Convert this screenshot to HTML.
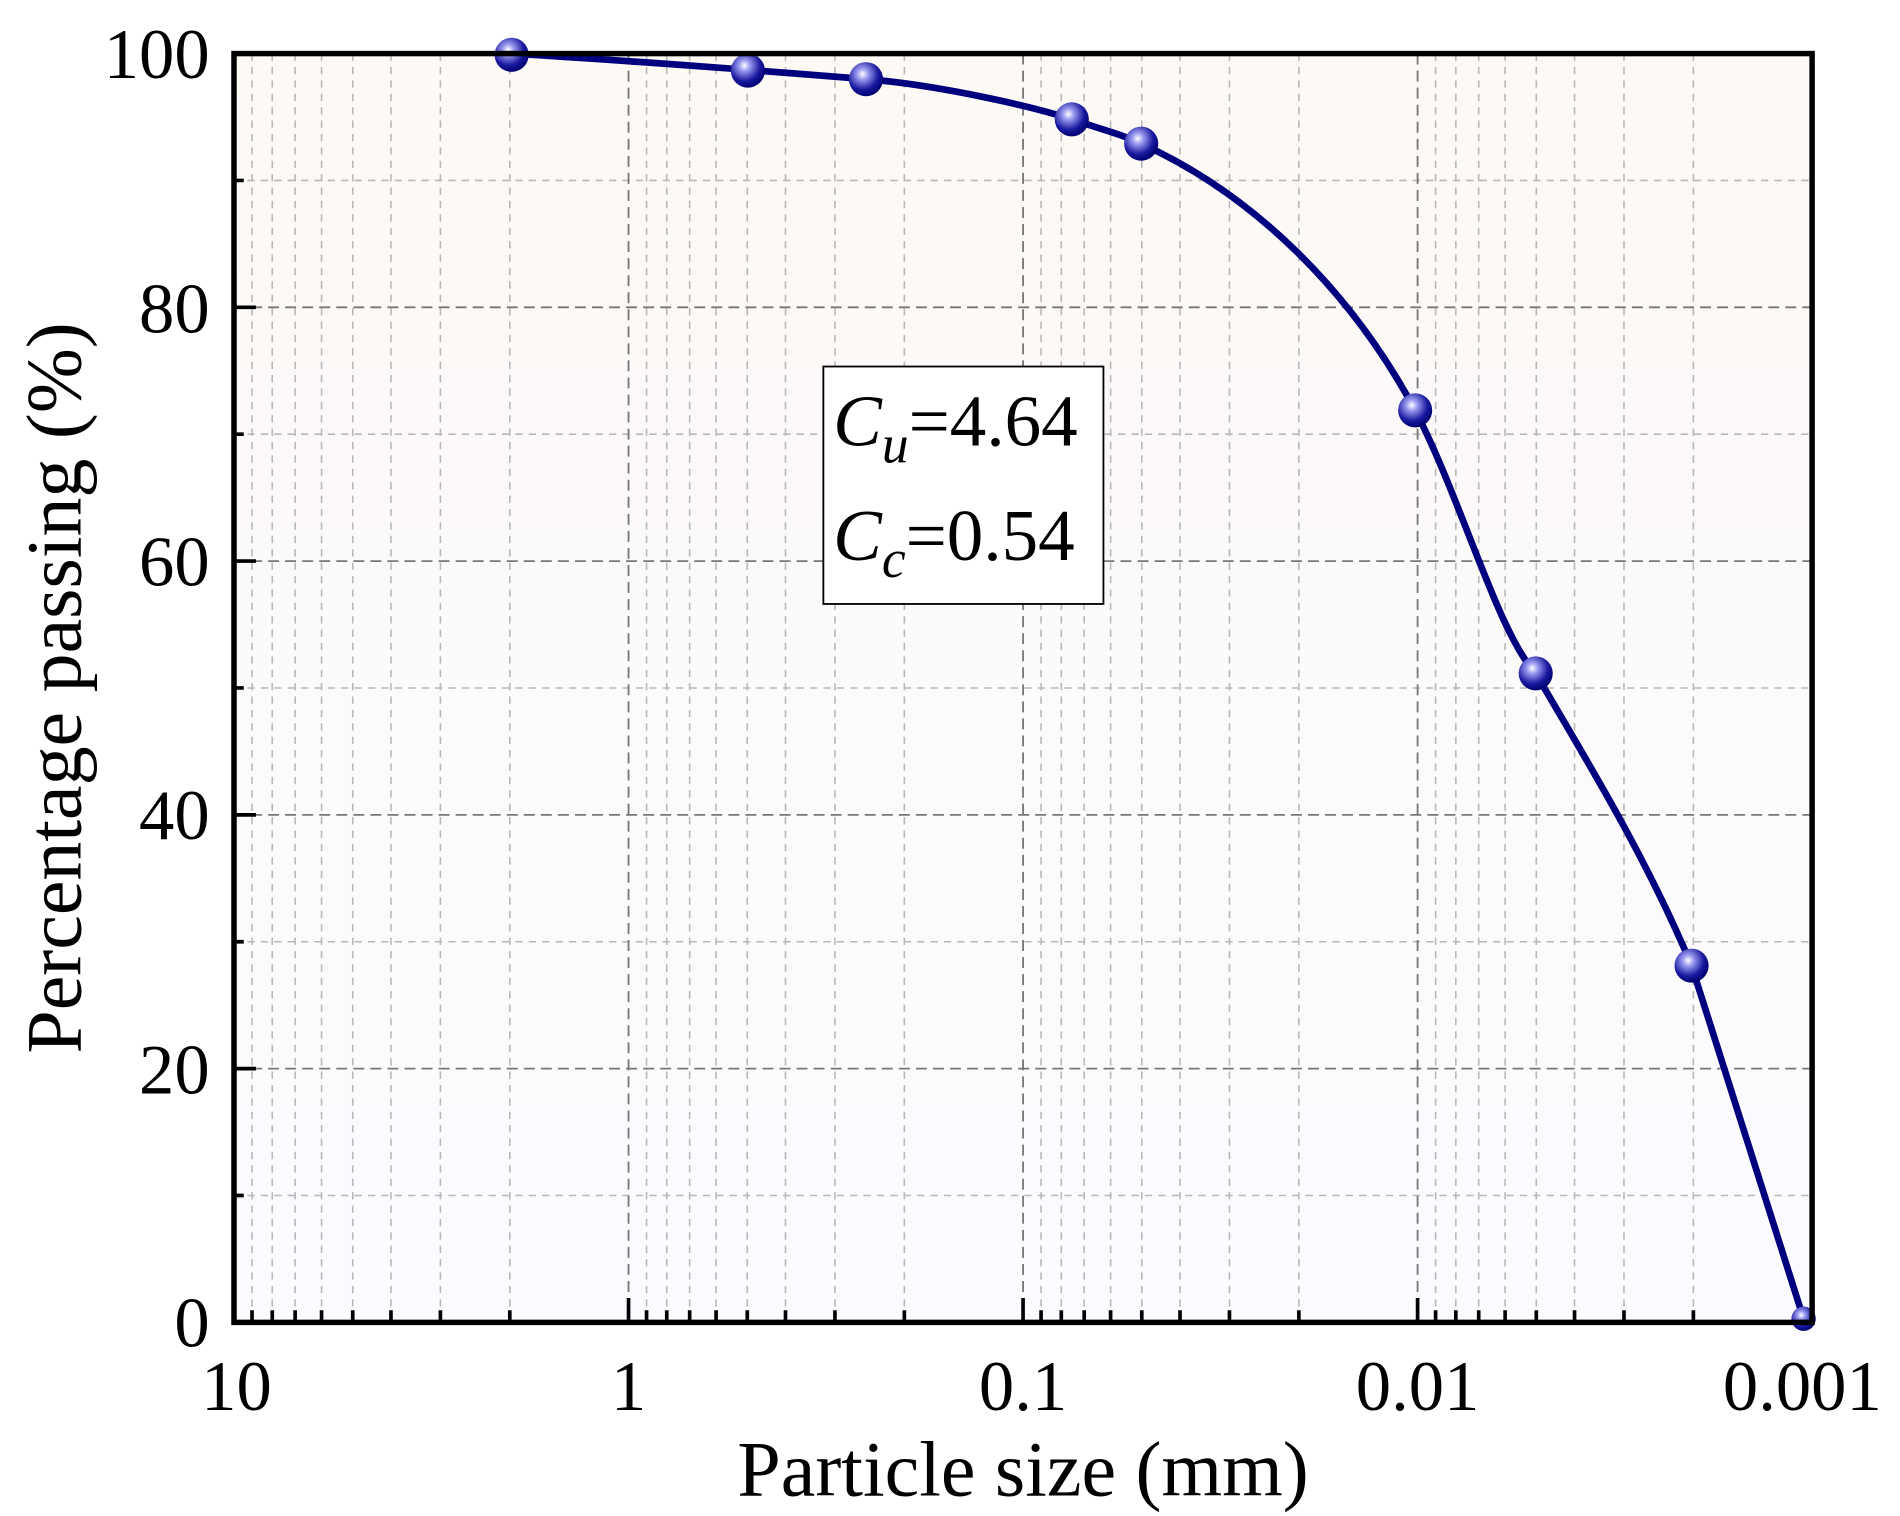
<!DOCTYPE html>
<html><head><meta charset="utf-8"><style>
html,body{margin:0;padding:0;background:#fff;}
svg{display:block;}
text{font-family:"Liberation Serif",serif;fill:#000;}
</style></head><body>
<svg width="1900" height="1516" viewBox="0 0 1560 1245" xmlns="http://www.w3.org/2000/svg">
<defs>
<linearGradient id="bg" x1="0" y1="0" x2="0" y2="1">
<stop offset="0" stop-color="#fdf9f5"/><stop offset="1" stop-color="#fbfaff"/>
</linearGradient>
<radialGradient id="ball" cx="0.4" cy="0.35" r="0.65">
<stop offset="0" stop-color="#ffffff"/><stop offset="0.25" stop-color="#9a9af0"/><stop offset="0.7" stop-color="#1a1aa0"/><stop offset="1" stop-color="#000070"/>
</radialGradient>
</defs>
<rect x="192" y="44" width="1296" height="1042" fill="url(#bg)"/>
<g stroke="#b8b8b8" stroke-width="1.3" stroke-dasharray="6,5" fill="none">
<path d="M206.8,44V1086M223.4,44V1086M242.2,44V1086M263.9,44V1086M289.5,44V1086M320.9,44V1086M361.5,44V1086M418.5,44V1086
M530.8,44V1086M547.4,44V1086M566.2,44V1086M587.9,44V1086M613.5,44V1086M644.9,44V1086M685.5,44V1086M742.5,44V1086
M854.8,44V1086M871.4,44V1086M890.2,44V1086M911.9,44V1086M937.5,44V1086M968.9,44V1086M1009.5,44V1086M1066.5,44V1086
M1178.8,44V1086M1195.4,44V1086M1214.2,44V1086M1235.9,44V1086M1261.5,44V1086M1292.9,44V1086M1333.5,44V1086M1390.5,44V1086
M192,981.8H1488M192,773.4H1488M192,565H1488M192,356.6H1488M192,148.2H1488"/>
</g>
<g stroke="#777" stroke-width="1.5" stroke-dasharray="9,5" fill="none">
<path d="M516,44V1086M840,44V1086M1164,44V1086M192,877.6H1488M192,669.2H1488M192,460.8H1488M192,252.4H1488"/>
</g>
<path d="M420,44 C520,50 650,60 711,65 S850,88 880,98 S920,110 937,118 C1030,160 1110,240 1162,337 C1200,410 1230,520 1261,553 C1300,620 1350,700 1389,793 L1481,1083" fill="none" stroke="#00007f" stroke-width="5.5"/>
<g fill="url(#ball)">
<circle cx="420" cy="45" r="14"/><circle cx="614" cy="58" r="14"/><circle cx="711" cy="65" r="14"/>
<circle cx="880" cy="98" r="14"/><circle cx="937" cy="118" r="14"/><circle cx="1162" cy="337" r="14"/>
<circle cx="1261" cy="553" r="14"/><circle cx="1389" cy="793" r="14"/><circle cx="1481" cy="1083" r="10"/>
</g>
<g stroke="#000" stroke-width="3" fill="none">
<path d="M206.8,1086v-10M223.4,1086v-10M242.2,1086v-10M263.9,1086v-10M289.5,1086v-10M320.9,1086v-10M361.5,1086v-10M418.5,1086v-10
M530.8,1086v-10M547.4,1086v-10M566.2,1086v-10M587.9,1086v-10M613.5,1086v-10M644.9,1086v-10M685.5,1086v-10M742.5,1086v-10
M854.8,1086v-10M871.4,1086v-10M890.2,1086v-10M911.9,1086v-10M937.5,1086v-10M968.9,1086v-10M1009.5,1086v-10M1066.5,1086v-10
M1178.8,1086v-10M1195.4,1086v-10M1214.2,1086v-10M1235.9,1086v-10M1261.5,1086v-10M1292.9,1086v-10M1333.5,1086v-10M1390.5,1086v-10
M516,1086v-20M840,1086v-20M1164,1086v-20
M192,981.8h8M192,773.4h8M192,565h8M192,356.6h8M192,148.2h8
M192,877.6h18M192,669.2h18M192,460.8h18M192,252.4h18"/>
</g>
<rect x="192" y="44" width="1296" height="1042" fill="none" stroke="#000" stroke-width="4.5"/>
<g font-size="58" text-anchor="end">
<text x="172" y="64">100</text><text x="172" y="273">80</text><text x="172" y="481">60</text>
<text x="172" y="689">40</text><text x="172" y="898">20</text><text x="172" y="1106">0</text>
</g>
<g font-size="58" text-anchor="middle">
<text x="194" y="1158">10</text><text x="516" y="1158">1</text><text x="840" y="1158">0.1</text>
<text x="1164" y="1158">0.01</text><text x="1480" y="1158">0.001</text>
</g>
<text x="840" y="1228" font-size="64" text-anchor="middle">Particle size (mm)</text>
<text transform="translate(66,565) rotate(-90)" font-size="64" text-anchor="middle">Percentage passing (%)</text>
<rect x="676" y="301" width="230" height="195" fill="#fff" stroke="#000" stroke-width="1.5"/>
<text x="684" y="366" font-size="60"><tspan font-style="italic">C</tspan><tspan font-style="italic" font-size="44" dy="14">u</tspan><tspan dy="-14">=4.64</tspan></text>
<text x="684" y="460" font-size="60"><tspan font-style="italic">C</tspan><tspan font-style="italic" font-size="44" dy="14">c</tspan><tspan dy="-14">=0.54</tspan></text>
</svg>
</body></html>
